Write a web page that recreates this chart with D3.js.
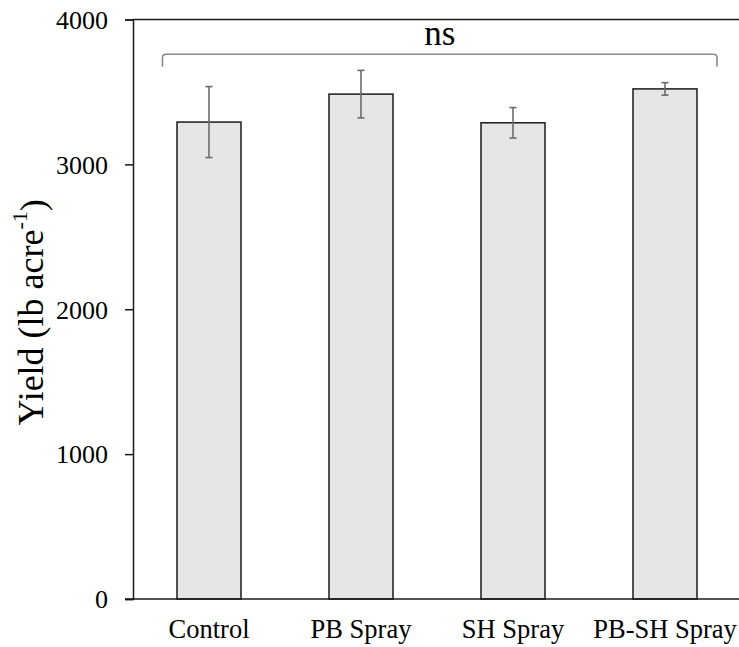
<!DOCTYPE html>
<html>
<head>
<meta charset="utf-8">
<script src="https://cdn.jsdelivr.net/npm/d3@7"></script>
<style>
  html, body { margin: 0; padding: 0; background: #fff; }
  svg text { font-family: 'Liberation Serif', 'Times New Roman', serif; }
</style>
</head>
<body>
<div id="chart"></div>
<script>
// Yield by treatment, mean with error bars
const categories = ["Control", "PB Spray", "SH Spray", "PB-SH Spray"];
const yieldMean  = [3292, 3485, 3287, 3521];
const yieldError = [245, 164, 105, 43];
const yTicks     = [0, 1000, 2000, 3000, 4000];
const sigLabel   = "ns";

const width = 739, height = 647;
const margin = { top: 19.5, right: -2, bottom: 48, left: 133 };

const svg = d3.select("#chart").append("svg")
  .attr("width", width).attr("height", height);

const x = d3.scaleBand()
  .domain(categories)
  .range([margin.left, width - margin.right])
  .paddingInner(0.579)
  .paddingOuter(0.2895);

const y = d3.scaleLinear()
  .domain([0, 4000])
  .range([height - margin.bottom, margin.top]);

// Bars
svg.append("g").selectAll("rect")
  .data(categories)
  .join("rect")
  .attr("x", d => x(d))
  .attr("y", (d, i) => y(yieldMean[i]))
  .attr("width", x.bandwidth())
  .attr("height", (d, i) => y(0) - y(yieldMean[i]))
  .attr("fill", "#e6e6e6")
  .attr("stroke", "#1a1a1a")
  .attr("stroke-width", 1.5);

// Error bars
const eb = svg.append("g").attr("stroke", "#6b6b6b").attr("stroke-width", 1.6).attr("fill", "none");
categories.forEach((c, i) => {
  const cx = x(c) + x.bandwidth() / 2;
  const hi = y(yieldMean[i] + yieldError[i]);
  const lo = y(yieldMean[i] - yieldError[i]);
  eb.append("line").attr("x1", cx).attr("x2", cx).attr("y1", hi).attr("y2", lo);
  eb.append("line").attr("x1", cx - 3.5).attr("x2", cx + 3.5).attr("y1", hi).attr("y2", hi);
  eb.append("line").attr("x1", cx - 3.5).attr("x2", cx + 3.5).attr("y1", lo).attr("y2", lo);
});

// Y axis
const yAxis = d3.axisLeft(y).tickValues(yTicks).tickSize(8).tickPadding(17).tickFormat(d3.format("d"));
const gy = svg.append("g").attr("transform", `translate(${margin.left},0)`).call(yAxis);
gy.attr("font-family", null);
gy.select(".domain").attr("stroke", "#1a1a1a").attr("stroke-width", 1.5);
gy.selectAll(".tick line").attr("stroke", "#1a1a1a").attr("stroke-width", 1.5);
gy.selectAll(".tick text")
  .attr("font-size", 26).attr("fill", "#000").attr("dy", "0.34em");

// Top frame line at 4000
svg.append("line")
  .attr("x1", margin.left).attr("x2", width - margin.right)
  .attr("y1", y(4000)).attr("y2", y(4000))
  .attr("stroke", "#1a1a1a").attr("stroke-width", 1.5);

// X axis labels and baseline
const xAxis = d3.axisBottom(x).tickSize(0).tickPadding(20);
const gx = svg.append("g").attr("transform", `translate(0,${y(0)})`).call(xAxis);
gx.attr("font-family", null);
gx.select(".domain").remove();
gx.selectAll(".tick text")
  .attr("font-size", 26.5).attr("fill", "#000");
svg.append("line")
  .attr("x1", margin.left - 8).attr("x2", width - margin.right)
  .attr("y1", y(0)).attr("y2", y(0))
  .attr("stroke", "#1a1a1a").attr("stroke-width", 1.5);

// Y axis title
const title = svg.append("text")
  .attr("transform", `translate(43,${(y(0) + y(4000)) / 2 + 3}) rotate(-90)`)
  .attr("text-anchor", "middle")
  .attr("font-size", 36).attr("fill", "#000");
title.append("tspan").text("Yield (lb acre");
title.append("tspan").attr("font-size", 22).attr("dy", "-0.75em").text("-1");
title.append("tspan").attr("dy", "0.5em").text(")");

// Significance bracket spanning all treatments
const bx0 = x(categories[0]) - 14.5;
const bx1 = x(categories[categories.length - 1]) + x.bandwidth() + 20;
const by = 54.3, bdrop = 12.4, r = 3.5;
svg.append("path")
  .attr("d", `M${bx0},${by + bdrop} L${bx0},${by + r} Q${bx0},${by} ${bx0 + r},${by} L${bx1 - r},${by} Q${bx1},${by} ${bx1},${by + r} L${bx1},${by + bdrop}`)
  .attr("fill", "none").attr("stroke", "#8a8a8a").attr("stroke-width", 1.6);
svg.append("text")
  .attr("x", (bx0 + bx1) / 2).attr("y", 45)
  .attr("text-anchor", "middle")
  .attr("font-size", 35).attr("fill", "#000")
  .text(sigLabel);
</script>
</body>
</html>
